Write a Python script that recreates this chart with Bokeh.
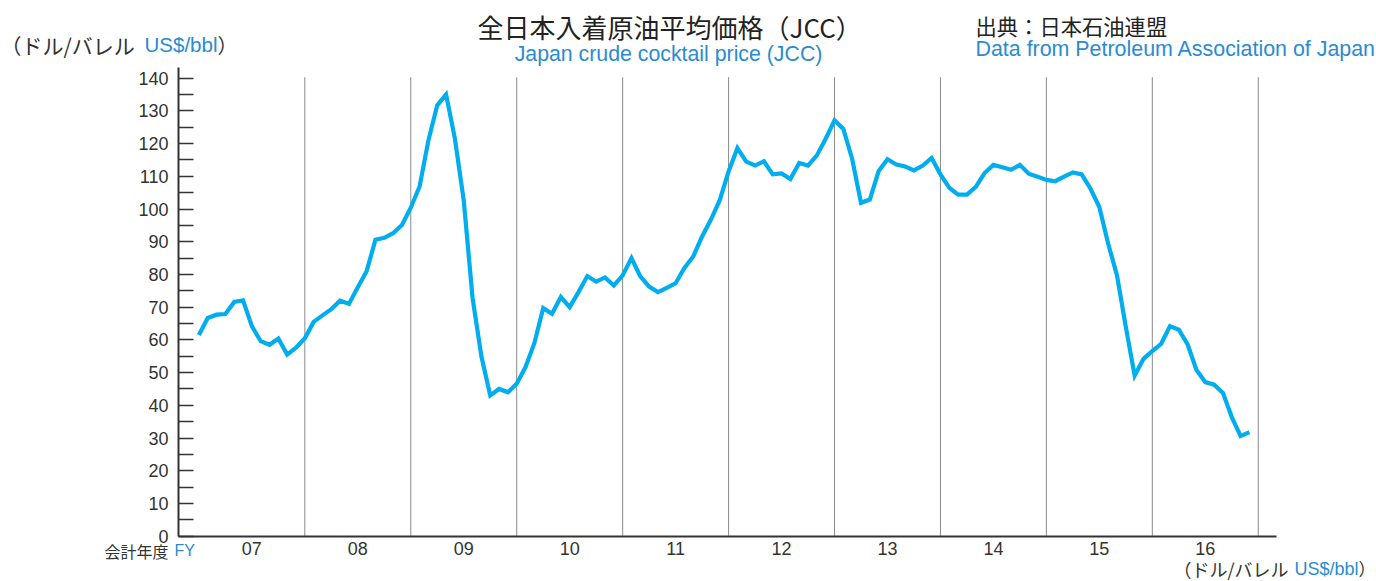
from bokeh.plotting import figure
from bokeh.models import Range1d, FixedTicker, Label
from bokeh.embed import file_html
from bokeh.resources import INLINE

# ---------------- data ----------------
fiscal_years = ["07", "08", "09", "10", "11", "12", "13", "14", "15", "16"]

# monthly JCC price, US$/bbl (120 months, FY07 .. FY16)
jcc_prices = [
    61.5, 66.7, 67.7, 67.9, 71.6, 72.1, 64.2, 59.6, 58.5, 60.4, 55.5, 57.6,
    60.5, 65.5, 67.5, 69.4, 72.0, 71.0, 76.1, 81.0, 90.6, 91.2, 92.6, 95.1,
    100.4, 106.9, 121.0, 131.7, 135.0, 121.5, 102.6, 72.8, 55.0, 43.0, 45.0, 44.0,
    46.6, 51.7, 59.0, 69.7, 68.0, 73.1, 70.0, 74.6, 79.5, 77.8, 79.1, 76.6,
    79.7, 85.0, 79.4, 76.3, 74.6, 75.9, 77.3, 82.0, 85.5, 91.6, 96.8, 102.7,
    111.5, 118.6, 114.5, 113.3, 114.6, 110.6, 110.9, 109.2, 114.1, 113.3, 116.4, 121.5,
    127.1, 124.5, 115.3, 101.9, 102.9, 111.6, 115.2, 113.6, 113.0, 111.8, 113.3, 115.6,
    110.6, 106.5, 104.4, 104.4, 106.8, 111.0, 113.5, 112.8, 112.0, 113.5, 110.8, 109.9,
    108.9, 108.5, 109.9, 111.2, 110.6, 106.2, 100.6, 89.4, 79.7, 63.9, 49.1, 54.2,
    56.6, 58.8, 64.2, 63.1, 58.6, 50.8, 47.1, 46.3, 43.8, 36.4, 30.6, 31.8,
]
months = list(range(len(jcc_prices)))

y_ticks = list(range(0, 141, 10))
y_minor_ticks = list(range(5, 140, 10))
year_centers = [12 * k + 6 for k in range(len(fiscal_years))]
year_bounds = [12 * (k + 1) for k in range(len(fiscal_years))]

# ---------------- geometry (canvas pixels) ----------------
W, H = 1376, 581
PX_PER_MONTH = 8.828
PX_PER_UNIT = 3.2714
X0_PX = 198.4      # canvas x of month 0
Y0_PX = 535.67     # canvas y of value 0


def dx(px):
    return (px - X0_PX) / PX_PER_MONTH


def dy(py):
    return (Y0_PX - py) / PX_PER_UNIT


BLUE = "#2a8bd2"
LINE = "#00adee"
LAT = "Liberation Sans"
JP = "Noto Sans CJK JP"

p = figure(width=W, height=H, output_backend="svg", toolbar_location=None, tools="",
           x_range=Range1d(dx(0), dx(W)), y_range=Range1d(dy(H), dy(0)),
           min_border=0)
p.outline_line_color = None
p.xgrid.visible = False
p.ygrid.visible = False
p.background_fill_color = "white"
p.border_fill_color = "white"

# y axis (drawn at the left edge of the plotting area)
ya = p.yaxis[0]
ya.fixed_location = dx(178)
ya.bounds = (0, dy(67))
ya.ticker = FixedTicker(ticks=y_ticks, minor_ticks=y_minor_ticks)
ya.axis_line_color = "#333333"
ya.axis_line_width = 2
ya.major_tick_in = 15
ya.major_tick_out = 0
ya.minor_tick_in = 15
ya.minor_tick_out = 0
ya.major_tick_line_color = "#333333"
ya.minor_tick_line_color = "#333333"
ya.major_tick_line_width = 1.5
ya.minor_tick_line_width = 1.5
ya.major_label_text_font = LAT
ya.major_label_text_font_size = "18px"
ya.major_label_text_color = "#333333"
ya.major_label_standoff = 10

# x axis
xa = p.xaxis[0]
xa.fixed_location = 0
xa.bounds = (dx(178), dx(1276))
xa.ticker = FixedTicker(ticks=year_centers)
xa.major_label_overrides = {c: fy for c, fy in zip(year_centers, fiscal_years)}
xa.axis_line_color = "#333333"
xa.axis_line_width = 2
xa.major_tick_in = 0
xa.major_tick_out = 0
xa.major_tick_line_color = None
xa.minor_tick_line_color = None
xa.major_label_text_font = LAT
xa.major_label_text_font_size = "18px"
xa.major_label_text_color = "#333333"
xa.major_label_standoff = 6

# fiscal year separators
p.segment(x0=year_bounds, y0=[0] * len(year_bounds), x1=year_bounds,
          y1=[140.3] * len(year_bounds), line_color="#8a8a8a", line_width=1)

# price line
p.line(months, jcc_prices, line_color=LINE, line_width=4.2, line_join="miter")


def lab(px, py, text, font, size, color, align="left", baseline="middle"):
    p.add_layout(Label(x=dx(px), y=dy(py), text=text, text_font=font,
                       text_font_size=size, text_color=color,
                       text_align=align, text_baseline=baseline))


# titles
lab(477, 26, "全日本入着原油平均価格（JCC）", JP, "26px", "#222222")
lab(668, 53, "Japan crude cocktail price (JCC)", LAT, "21.3px", BLUE, align="center")
lab(975, 25, "出典：日本石油連盟", JP, "21.3px", "#222222")
lab(975, 48, "Data from Petroleum Association of Japan", LAT, "21.4px", BLUE)

# unit label top-left
lab(0, 44, "（ドル/バレル", JP, "21px", "#333333")
lab(144, 44, "US$/bbl", LAT, "20.5px", BLUE)
lab(217, 44, "）", JP, "20px", "#333333")

# fiscal-year caption
lab(104, 550, "会計年度", JP, "16px", "#333333")
lab(174, 550, "FY", LAT, "16px", BLUE)

# unit label bottom-right
lab(1173, 568, "（ドル/バレル", JP, "18px", "#333333")
lab(1294, 568, "US$/bbl", LAT, "18px", BLUE)
lab(1358, 568, "）", JP, "17px", "#333333")

open("out.html", "w").write(file_html(p, INLINE))
